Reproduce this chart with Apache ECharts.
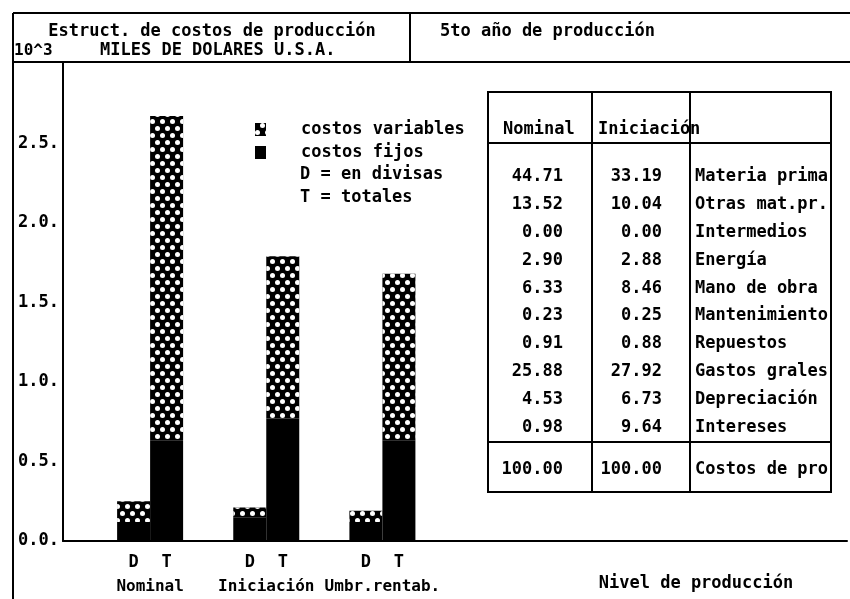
<!DOCTYPE html>
<html>
<head>
<meta charset="utf-8">
<script src="https://cdn.jsdelivr.net/npm/echarts@6/dist/echarts.min.js"></script>
<style>
html, body { margin: 0; padding: 0; background: #fff; }
#main { width: 850px; height: 599px; }
</style>
</head>
<body>
<div id="main"></div>
<script>
// niveles de produccion (barras D = en divisas, T = totales)
var categories = ['Nominal', 'Iniciación', 'Umbr.rentab.'];
var groupPos = [1, 2, 3];
var dFijos = [0.12, 0.15, 0.12];
var dVariables = [0.13, 0.06, 0.07];
var tFijos = [0.63, 0.77, 0.63];
var tVariables = [2.04, 1.02, 1.05];

// tabla de estructura de costos (%)
var rubros = ['Materia prima', 'Otras mat.pr.', 'Intermedios', 'Energía', 'Mano de obra',
	'Mantenimiento', 'Repuestos', 'Gastos grales', 'Depreciación', 'Intereses'];
var pctNominal = [44.71, 13.52, 0.00, 2.90, 6.33, 0.23, 0.91, 25.88, 4.53, 0.98];
var pctIniciacion = [33.19, 10.04, 0.00, 2.88, 8.46, 0.25, 0.88, 27.92, 6.73, 9.64];
var totalLabel = 'Costos de producción';
var totales = [100.00, 100.00];

var FONT = 'DejaVu Sans Mono';

// valor primero para que el apilado se haga sobre el eje y
function pares(vals) {
	return vals.map(function (v, i) {
		return [v, groupPos[i]];
	});
}

function txt(x, y, text, align, size) {
	return {
		type: 'text',
		x: x,
		y: y,
		style: {
			text: text,
			fill: '#000',
			font: 'bold ' + (size || 17) + 'px "' + FONT + '"',
			textAlign: align || 'left',
			textVerticalAlign: 'middle'
		}
	};
}

function linea(x1, y1, x2, y2) {
	return {
		type: 'line',
		shape: { x1: x1, y1: y1, x2: x2, y2: y2 },
		style: { stroke: '#000', lineWidth: 2 }
	};
}

var dotted = {
	symbol: 'circle',
	symbolSize: 1,
	color: '#fff',
	dashArrayX: [[4.5, 4.5], [0, 4.5, 4.5, 0]],
	dashArrayY: [5, 1.5],
	rotation: 0
};

var graphics = [
	linea(13, 13, 850, 13),
	linea(13, 13, 13, 599),
	linea(13, 62, 850, 62),
	linea(410, 13, 410, 62),
	txt(212, 32, 'Estruct. de costos de producción', 'center', 17),
	txt(14, 51, '10^3', 'left', 16),
	txt(100, 51, 'MILES DE DOLARES U.S.A.', 'left', 17),
	txt(440, 32, '5to año de producción', 'left', 17),
	txt(300, 175, 'D = en divisas'),
	txt(300, 198, 'T = totales'),
	txt(696, 584, 'Nivel de producción', 'center'),
	// tabla
	{
		type: 'rect',
		shape: { x: 488, y: 92, width: 343, height: 400 },
		style: { fill: '#fff', stroke: '#000', lineWidth: 2 }
	},
	linea(592, 92, 592, 492),
	linea(690, 92, 690, 492),
	linea(488, 143, 831, 143),
	linea(488, 442, 831, 442),
	txt(503, 130, 'Nominal'),
	txt(598, 130, 'Iniciación')
];

rubros.forEach(function (r, i) {
	var y = 177 + i * 27.8;
	graphics.push(txt(563, y, pctNominal[i].toFixed(2), 'right'));
	graphics.push(txt(662, y, pctIniciacion[i].toFixed(2), 'right'));
	var t = txt(695, y, r);
	t.style.width = 135;
	t.style.overflow = 'truncate';
	t.style.ellipsis = '';
	graphics.push(t);
});
graphics.push(txt(563, 470, totales[0].toFixed(2), 'right'));
graphics.push(txt(662, 470, totales[1].toFixed(2), 'right'));
var tt = txt(695, 470, totalLabel);
tt.style.width = 135;
tt.style.overflow = 'truncate';
tt.style.ellipsis = '';
graphics.push(tt);

var myChart = echarts.init(document.getElementById('main'));

function barSerie(name, stack, vals, decal) {
	return {
		name: name,
		type: 'bar',
		stack: stack,
		barWidth: 33,
		barGap: '0%',
		encode: { x: 1, y: 0 },
		itemStyle: decal ? { color: '#000', decal: decal } : { color: '#000' },
		data: pares(vals)
	};
}

var option = {
	backgroundColor: '#fff',
	animation: false,
	textStyle: { fontFamily: FONT, fontWeight: 'bold', color: '#000' },
	grid: { left: 63, top: 62, right: 0, bottom: 58 },
	legend: {
		orient: 'vertical',
		left: 250,
		top: 116,
		itemWidth: 11,
		itemHeight: 13,
		itemGap: 6,
		icon: 'rect',
		data: ['costos variables', 'costos fijos'],
		textStyle: { fontFamily: FONT, fontWeight: 'bold', fontSize: 17, color: '#000', padding: [0, 0, 0, 30] }
	},
	xAxis: {
		type: 'value',
		min: 0.25,
		max: 7,
		interval: 0.25,
		splitLine: { show: false },
		axisTick: { show: false },
		axisLine: { show: true, onZero: false, lineStyle: { color: '#000', width: 2 } },
		axisLabel: {
			margin: 10,
			color: '#000',
			formatter: function (v) {
				var i = groupPos.indexOf(v);
				if (i < 0) return '';
				return '{d|D}{t|T}\n{c|' + categories[i] + '}';
			},
			rich: {
				d: { width: 33, align: 'center', fontFamily: FONT, fontWeight: 'bold', fontSize: 17, lineHeight: 24 },
				t: { width: 33, align: 'center', fontFamily: FONT, fontWeight: 'bold', fontSize: 17, lineHeight: 24 },
				c: { fontFamily: FONT, fontWeight: 'bold', fontSize: 16, lineHeight: 24 }
			}
		}
	},
	yAxis: {
		type: 'value',
		min: 0,
		max: 3.01,
		interval: 0.5,
		splitLine: { show: false },
		axisTick: { show: false },
		axisLine: { show: true, lineStyle: { color: '#000', width: 2 } },
		axisLabel: {
			margin: 4,
			color: '#000',
			fontFamily: FONT,
			fontWeight: 'bold',
			fontSize: 17,
			formatter: function (v) {
				return v > 2.9 ? '' : v.toFixed(1) + '.';
			}
		}
	},
	graphic: graphics,
	series: [
		barSerie('costos fijos', 'D', dFijos),
		barSerie('costos variables', 'D', dVariables, dotted),
		barSerie('costos fijos', 'T', tFijos),
		barSerie('costos variables', 'T', tVariables, dotted)
	]
};

myChart.setOption(option);
</script>
</body>
</html>
